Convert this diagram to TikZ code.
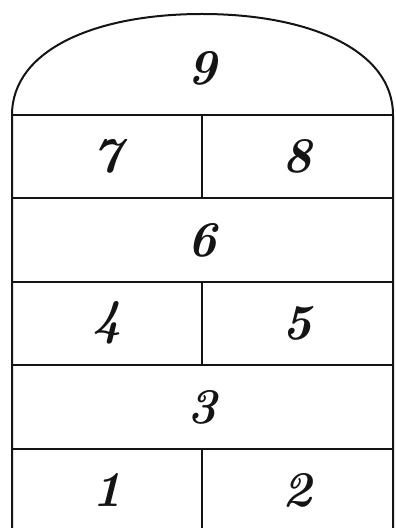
\documentclass[tikz,border=0pt]{standalone}
\usepackage{tikz}
\usetikzlibrary{positioning}
\definecolor{chalk}{RGB}{20,20,20}

\begin{document}
\begin{tikzpicture}[
    x=1pt,
    y=1pt,
    court/.style={
        draw=chalk,
        line width=2pt
    },
    num/.style={
        text=chalk,
        inner sep=0pt,
        font=\fontsize{50}{54}\selectfont\bfseries\itshape
    }
]

\useasboundingbox (0,0) rectangle (396,528);

% outline of the court
\draw[court] (12,-2) -- (12,413)
    .. controls (12,478) and (95,514) .. (202,514)
    .. controls (309,514) and (393,478) .. (393,413)
    -- (393,-2);

% cross lines
\draw[court] (12,413) -- (393,413);
\draw[court] (12,330) -- (393,330);
\draw[court] (12,246) -- (393,246);
\draw[court] (12,163) -- (393,163);
\draw[court] (12,79) -- (393,79);

% split squares
\draw[court] (202,413) -- (202,330);
\draw[court] (202,246) -- (202,163);
\draw[court] (202,79) -- (202,-2);

\node[num] (one)   at (107,38)  {1};
\node[num] (two)   at (297,38)  {2};
\node[num] (three) at (202,121) {3};
\node[num] (four)  at (107,205) {4};
\node[num] (five)  at (297,205) {5};
\node[num] (six)   at (202,288) {6};
\node[num] (seven) at (107,372) {7};
\node[num] (eight) at (297,372) {8};
\node[num] (nine)  at (202,460) {9};

\end{tikzpicture}
\end{document}
